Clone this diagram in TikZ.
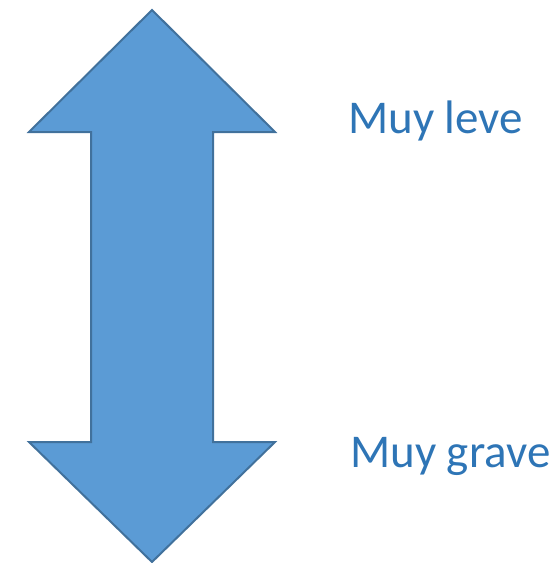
\documentclass[tikz,border=0pt]{standalone}
\usepackage{fontspec}
\setmainfont{Carlito}
\definecolor{arrowfill}{HTML}{5B9BD5}
\definecolor{arrowline}{HTML}{41719C}
\definecolor{labelblue}{HTML}{2E75B6}
\begin{document}
\begin{tikzpicture}[x=1pt,y=-1pt,
  bigarrow/.style={fill=arrowfill,draw=arrowline,line width=2pt,line join=miter},
  label/.style={anchor=base west,inner sep=0pt,text=labelblue,font=\fontsize{47}{50}\selectfont}]
\useasboundingbox (0,0) rectangle (558,563);
\draw[bigarrow] (152,10) -- (275,132) -- (213,132) -- (213,442) -- (275,442)
  -- (152,562) -- (29,442) -- (91,442) -- (91,132) -- (29,132) -- cycle;
\node[label] (leve) at (348,133) {Muy leve};
\node[label] (grave) at (350,467) {Muy grave};
\end{tikzpicture}
\end{document}
